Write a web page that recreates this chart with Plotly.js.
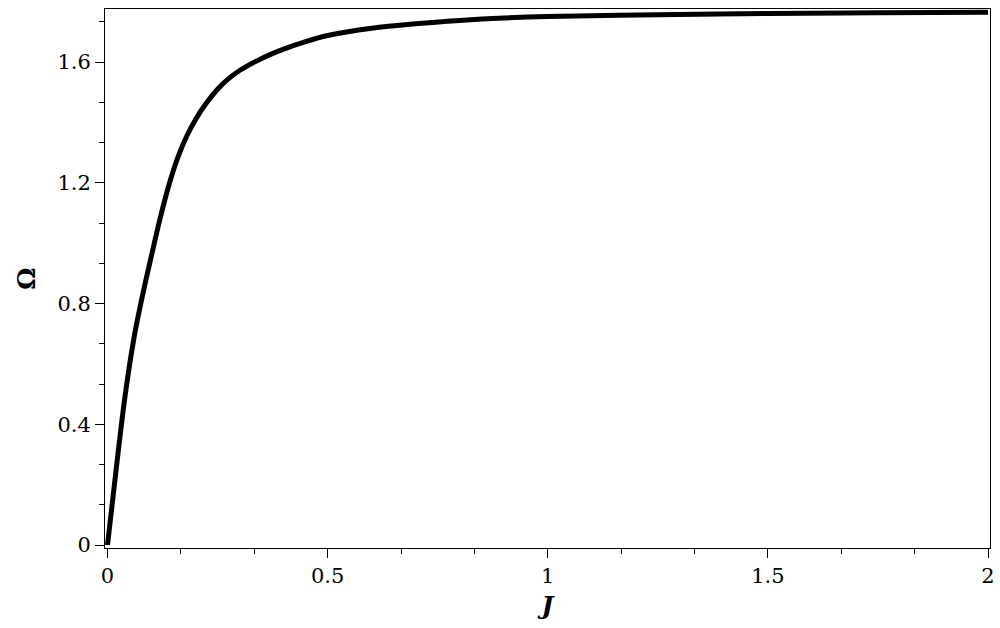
<!DOCTYPE html>
<html>
<head>
<meta charset="utf-8">
<script src="https://cdn.plot.ly/plotly-3.0.1.min.js"></script>
<style>
  body { margin: 0; background: #fff; }
  #omega-plot { width: 1000px; height: 628px; }
</style>
</head>
<body>
<div id="omega-plot"></div>
<script>
// values
var J = [0, 0.02, 0.04, 0.06, 0.08, 0.1, 0.12, 0.14, 0.16, 0.18, 0.2, 0.225, 0.25, 0.275, 0.3, 0.35, 0.4, 0.45, 0.5, 0.6, 0.7, 0.8, 0.9, 1.0, 1.25, 1.5, 1.75, 2.0];
var Omega = [0, 0.255, 0.495, 0.685, 0.83, 0.96, 1.085, 1.195, 1.285, 1.355, 1.41, 1.465, 1.51, 1.545, 1.572, 1.612, 1.643, 1.668, 1.688, 1.712, 1.727, 1.738, 1.746, 1.751, 1.757, 1.761, 1.763, 1.765];

var xTicks = [0, 0.5, 1, 1.5, 2];
var xTickText = ['0', '0.5', '1', '1.5', '2'];
var yTicks = [0, 0.4, 0.8, 1.2, 1.6];
var yTickText = ['0', '0.4', '0.8', '1.2', '1.6'];

var serif = 'DejaVu Serif';

var trace = {
  x: J,
  y: Omega,
  mode: 'lines',
  line: { color: 'black', width: 5, shape: 'spline', smoothing: 1 },
  hoverinfo: 'skip'
};

var layout = {
  width: 1000,
  height: 628,
  margin: { l: 105, r: 10, t: 9, b: 80 },
  paper_bgcolor: 'white',
  plot_bgcolor: 'white',
  showlegend: false,
  font: { family: serif, size: 21, color: 'black' },
  xaxis: {
    range: [-0.0057, 2.0045],
    tickvals: xTicks,
    ticktext: xTickText,
    ticks: 'outside',
    ticklen: 9,
    tickwidth: 1,
    tickcolor: 'black',
    minor: { dtick: 0.5 / 3, tick0: 0, ticks: 'outside', ticklen: 5, tickwidth: 1, tickcolor: 'black' },
    showline: true,
    linecolor: 'black',
    linewidth: 1,
    mirror: true,
    showgrid: false,
    zeroline: false,
    tickfont: { family: serif, size: 21 },
    title: { text: '<b><i>J</i></b>', font: { family: serif, size: 25 }, standoff: 9 }
  },
  yaxis: {
    range: [-0.0099, 1.7758],
    tickvals: yTicks,
    ticktext: yTickText,
    ticks: 'outside',
    ticklen: 9,
    tickwidth: 1,
    tickcolor: 'black',
    minor: { dtick: 0.4 / 3, tick0: 0, ticks: 'outside', ticklen: 5, tickwidth: 1, tickcolor: 'black' },
    showline: true,
    linecolor: 'black',
    linewidth: 1,
    mirror: true,
    showgrid: false,
    zeroline: false,
    tickfont: { family: serif, size: 21 },
    title: { text: '<b>Ω</b>', font: { family: serif, size: 25 }, standoff: 14 }
  }
};

Plotly.newPlot('omega-plot', [trace], layout, { staticPlot: true });
</script>
</body>
</html>
